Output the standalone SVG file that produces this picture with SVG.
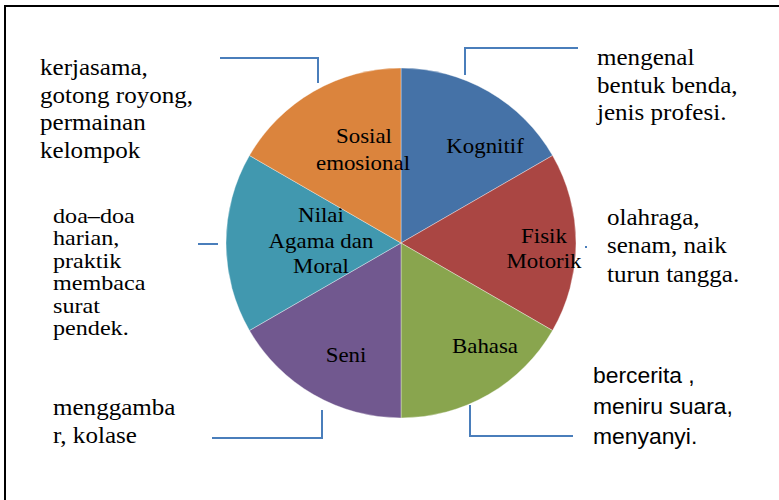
<svg xmlns="http://www.w3.org/2000/svg" width="779" height="500" viewBox="0 0 779 500">
<style>
.frame{fill:none;stroke:#000;stroke-width:2}
.sl{stroke:#fff;stroke-width:0.6;stroke-opacity:0.6}
.con{fill:none;stroke:#4a7ebb;stroke-width:2}
.t{font-family:"Liberation Serif","Times New Roman",serif;font-size:23px;fill:#000}
.n{font-family:"Liberation Serif","Times New Roman",serif;font-size:21px;fill:#000}
.l{font-family:"Liberation Serif","Times New Roman",serif;font-size:21px;fill:#000;text-anchor:middle}
.s{font-family:"Liberation Sans",Arial,sans-serif;font-size:22px;fill:#000}
</style>
<rect width="779" height="500" fill="#fff"/>
<path class="frame" d="M5,500 V6 H779"/>
<g id="pie">
<g id="kognitif"><path class="sl" fill="#4572A7" d="M401,243 L401,68 A175,175 0 0 1 552.55,155.5 Z"/><text class="l" transform="translate(485,153) scale(1.09,1)">Kognitif</text></g>
<g id="fisik"><path class="sl" fill="#AA4643" d="M401,243 L552.55,155.5 A175,175 0 0 1 552.55,330.5 Z"/><text class="l" transform="translate(544,243) scale(1.09,1)">Fisik</text><text class="l" transform="translate(544,268) scale(1.09,1)">Motorik</text></g>
<g id="bahasa"><path class="sl" fill="#89A54E" d="M401,243 L552.55,330.5 A175,175 0 0 1 401,418 Z"/><text class="l" transform="translate(485,353) scale(1.09,1)">Bahasa</text></g>
<g id="seni"><path class="sl" fill="#71588F" d="M401,243 L401,418 A175,175 0 0 1 249.45,330.5 Z"/><text class="l" transform="translate(346,362) scale(1.09,1)">Seni</text></g>
<g id="nilai"><path class="sl" fill="#4198AF" d="M401,243 L249.45,330.5 A175,175 0 0 1 249.45,155.5 Z"/><text class="l" transform="translate(321,222) scale(1.09,1)">Nilai</text><text class="l" transform="translate(321,248) scale(1.09,1)">Agama dan</text><text class="l" transform="translate(321,273) scale(1.09,1)">Moral</text></g>
<g id="sosial"><path class="sl" fill="#DB843D" d="M401,243 L249.45,155.5 A175,175 0 0 1 401,68 Z"/><text class="l" transform="translate(364,143) scale(1.09,1)">Sosial</text><text class="l" transform="translate(363,170) scale(1.09,1)">emosional</text></g>
</g>
<g id="connectors">
<path class="con" d="M220,58 H318 V83"/>
<path class="con" d="M465,75 V48 H578"/>
<path class="con" d="M198,244 H218"/>
<path class="con" d="M585,247 H587" stroke-width="1"/>
<path class="con" d="M212,438 H322 V410"/>
<path class="con" d="M470,405 V436 H573"/>
</g>
<g id="note-sosial" transform="translate(40,0) scale(1.09,1)"><text class="t" x="0" y="75">kerjasama,</text><text class="t" x="0" y="103">gotong royong,</text><text class="t" x="0" y="130">permainan</text><text class="t" x="0" y="158">kelompok</text></g>
<g id="note-nilai" transform="translate(53,0) scale(1.15,1)"><text class="n" x="0" y="223">doa–doa</text><text class="n" x="0" y="245">harian,</text><text class="n" x="0" y="268">praktik</text><text class="n" x="0" y="290">membaca</text><text class="n" x="0" y="313">surat</text><text class="n" x="0" y="335">pendek.</text></g>
<g id="note-seni" transform="translate(53,0) scale(1.09,1)"><text class="t" x="0" y="415">menggamba</text><text class="t" x="0" y="443">r, kolase</text></g>
<g id="note-kognitif" transform="translate(597,0) scale(1.09,1)"><text class="t" x="0" y="65">mengenal</text><text class="t" x="0" y="93">bentuk benda,</text><text class="t" x="0" y="120">jenis profesi.</text></g>
<g id="note-fisik" transform="translate(607,0) scale(1.09,1)"><text class="t" x="0" y="225">olahraga,</text><text class="t" x="0" y="253">senam, naik</text><text class="t" x="0" y="282">turun tangga.</text></g>
<g id="note-bahasa" transform="translate(593,0) scale(1.04,1)"><text class="s" x="0" y="383">bercerita ,</text><text class="s" x="0" y="414">meniru suara,</text><text class="s" x="0" y="444">menyanyi.</text></g>
</svg>
